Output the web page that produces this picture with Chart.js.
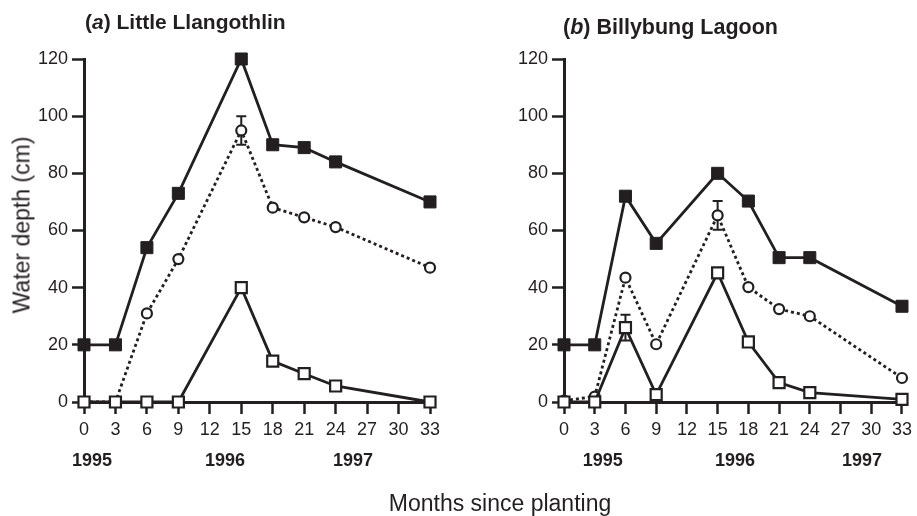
<!DOCTYPE html>
<html>
<head>
<meta charset="utf-8">
<script src="https://cdn.jsdelivr.net/npm/chart.js@4.4.1/dist/chart.umd.min.js"></script>
<style>
    body { margin: 0; background: #fff; }
    #wrap { position: relative; width: 917px; height: 516px; font-family: "Liberation Sans", Arial, sans-serif; color: #231f20; }
    canvas { position: absolute; top: 0; }
    .txt { position: absolute; white-space: nowrap; line-height: 1; transform: translate(0, -50%); }
</style>
</head>
<body>
<div id="wrap">
    <canvas id="chart-a" width="458" height="516" style="left:0"></canvas>
    <canvas id="chart-b" width="459" height="516" style="left:458px"></canvas>
    <div class="txt" style="left:85px; top:21px; font-size:21px; font-weight:bold">(<i>a</i>) Little Llangothlin</div>
    <div class="txt" style="left:563px; top:28px; font-size:21.5px; font-weight:bold">(<i>b</i>) Billybung Lagoon</div>
    <div class="txt" style="left:22px; top:225px; font-size:23px; transform: translate(-50%, -50%) rotate(-90deg)">Water depth (cm)</div>
    <div class="txt" style="left:500px; top:503px; font-size:23px; transform: translate(-50%, -50%)">Months since planting</div>
</div>
<script>
'use strict';

// Shared x values (months since planting)
var months = [0, 3, 6, 9, 15, 18, 21, 24, 33];
var years  = ['1995', '1996', '1997'];

// (a) Little Llangothlin
var aFilled  = [20, 20, 54, 73, 120, 90, 89, 84, 70];
var aCircle  = [0, 0, 31, 50, 95, 68, 64.6, 61.2, 47];
var aOpen    = [0, 0, 0, 0, 40, 14.3, 9.9, 5.6, 0];
var aCircErr = [null, null, null, null, 5, null, null, null, null];

// (b) Billybung Lagoon
var bFilled  = [20, 20, 72, 55.5, 80, 70.3, 50.5, 50.5, 33.5];
var bCircle  = [0.5, 1.9, 43.5, 20.2, 65.3, 40.2, 32.5, 30, 8.4];
var bOpen    = [0, 0, 26, 2.6, 45.2, 21, 6.8, 3.3, 0.9];
var bCircErr = [null, null, null, null, 5, null, null, null, null];
var bOpenErr = [null, null, 4.5, null, null, null, null, null, null];

var ink  = '#231f20';
var font = '"Liberation Sans", Arial, sans-serif';

function pts(vals) {
    return months.map(function (m, i) { return { x: m, y: vals[i] }; });
}

// error bars under the markers, year labels under the axis
var extras = {
    id: 'extras',
    beforeDatasetsDraw: function (chart) {
        var ctx = chart.ctx, xs = chart.scales.x, ys = chart.scales.y;
        ctx.save();
        ctx.strokeStyle = ink;
        ctx.lineWidth = 2;
        chart.data.datasets.forEach(function (ds) {
            if (!ds.errors) return;
            ds.data.forEach(function (p, i) {
                var e = ds.errors[i];
                if (e == null) return;
                var px = xs.getPixelForValue(p.x);
                var top = ys.getPixelForValue(p.y + e);
                var bot = ys.getPixelForValue(p.y - e);
                ctx.beginPath();
                ctx.moveTo(px, top); ctx.lineTo(px, bot);
                ctx.moveTo(px - 5, top); ctx.lineTo(px + 5, top);
                ctx.moveTo(px - 5, bot); ctx.lineTo(px + 5, bot);
                ctx.stroke();
            });
        });
        ctx.restore();
    },
    afterDraw: function (chart, args, opts) {
        var ctx = chart.ctx, xs = chart.scales.x;
        ctx.save();
        ctx.fillStyle = ink;
        ctx.font = 'bold 18px ' + font;
        ctx.textAlign = 'center';
        ctx.textBaseline = 'middle';
        years.forEach(function (y, i) {
            ctx.fillText(y, xs.getPixelForValue(opts.at[i]), 461);
        });
        ctx.restore();
    }
};

function makeChart(id, filled, circle, open, circErr, openErr, pad, yearAt) {
    return new Chart(document.getElementById(id), {
        type: 'line',
        data: {
            datasets: [
                {
                    data: pts(open), errors: openErr, order: 0, clip: false,
                    borderColor: ink, borderWidth: 2.8,
                    pointStyle: 'rect', pointRadius: 7.8, pointBorderWidth: 2.2,
                    pointBackgroundColor: '#fff', pointBorderColor: ink
                },
                {
                    data: pts(circle), errors: circErr, order: 1, clip: false,
                    borderColor: ink, borderWidth: 2.8, borderDash: [3, 3],
                    pointStyle: 'circle', pointRadius: 5, pointBorderWidth: 2.2,
                    pointBackgroundColor: '#fff', pointBorderColor: ink
                },
                {
                    data: pts(filled), order: 2, clip: false,
                    borderColor: ink, borderWidth: 2.8,
                    pointStyle: 'rect', pointRadius: 8.5, pointBorderWidth: 1,
                    pointBackgroundColor: ink, pointBorderColor: ink
                }
            ]
        },
        options: {
            responsive: false,
            animation: false,
            layout: { padding: pad },
            plugins: {
                legend: { display: false },
                tooltip: { enabled: false },
                extras: { at: yearAt }
            },
            scales: {
                x: {
                    type: 'linear', min: 0, max: 33,
                    afterFit: function (s) { s.height = 40; },
                    border: { color: ink, width: 3 },
                    grid: { drawOnChartArea: false, tickLength: 12, tickColor: ink, tickWidth: 2.5 },
                    ticks: { stepSize: 3, autoSkip: false, maxRotation: 0, color: ink, padding: 5, font: { size: 18, family: font } }
                },
                y: {
                    min: 0, max: 120,
                    afterFit: function (s) { s.width = 50; },
                    border: { color: ink, width: 3 },
                    grid: { drawOnChartArea: false, tickLength: 12, tickColor: ink, tickWidth: 2.5 },
                    ticks: { stepSize: 20, color: ink, padding: 4, font: { size: 18, family: font } }
                }
            }
        },
        plugins: [extras]
    });
}

makeChart('chart-a', aFilled, aCircle, aOpen, aCircErr, null,
    { left: 34, right: 28, top: 59, bottom: 74 }, [0.76, 13.45, 25.65]);
makeChart('chart-b', bFilled, bCircle, bOpen, bCircErr, bOpenErr,
    { left: 56, right: 12, top: 59, bottom: 74 }, [3.78, 16.7, 29.1]);
</script>
</body>
</html>
